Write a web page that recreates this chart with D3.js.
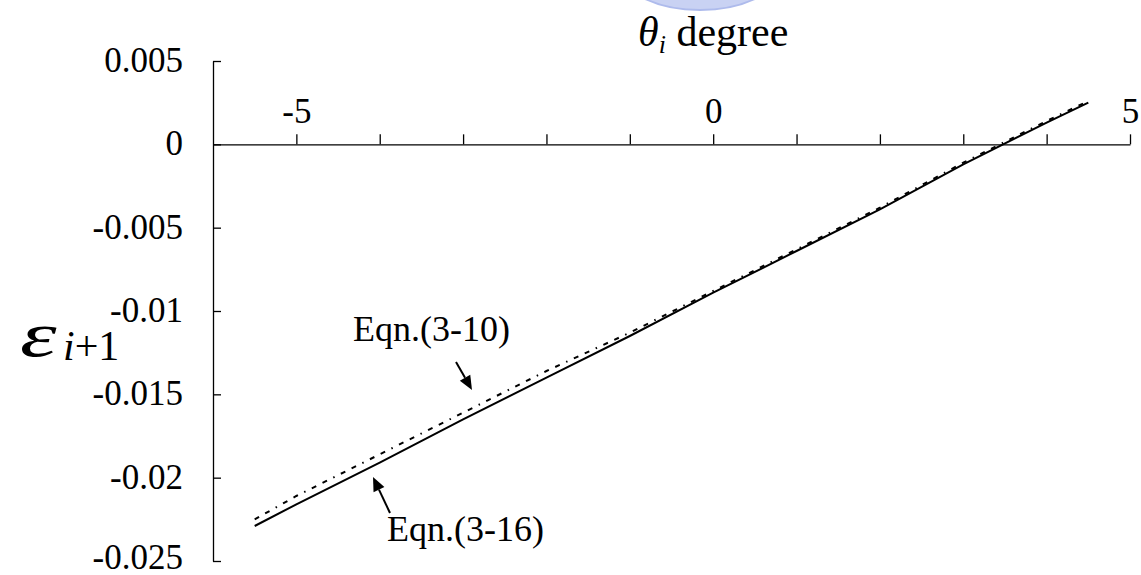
<!DOCTYPE html>
<meta charset="utf-8">
<head>
  <title>epsilon vs theta</title>
</head>

<style>
body {
  margin: 0;
  background: #fff;
}
svg text {
  font-family: "Liberation Serif", "Times New Roman", serif;
  fill: #000;
}
</style>

<body>
  <div id="content">
    <svg width="1141" height="575"></svg>
  </div>

  <script src="https://cdnjs.cloudflare.com/ajax/libs/d3/7.8.5/d3.min.js"></script>

  <script>
// theta_i in degrees
var theta = [-5.5, -5, -4, -3, -2, -1, 0, 1, 2, 3, 4, 4.5];

// Eqn.(3-16), solid line
var eqn316 = [-0.0229, -0.0216, -0.0191, -0.0165, -0.0140, -0.0115, -0.0089, -0.0064, -0.0039, -0.0012, 0.0013, 0.0025];

// Eqn.(3-10), dotted line
var eqn310 = [-0.0225, -0.0211, -0.0186, -0.0161, -0.0136, -0.0113, -0.0088, -0.0063, -0.0038, -0.0011, 0.0014, 0.0026];

var xTicks = [-5, -4, -3, -2, -1, 0, 1, 2, 3, 4, 5];
var xTickLabels = {'-5': '-5', '0': '0', '5': '5'};
var yTicks = [0.005, 0, -0.005, -0.01, -0.015, -0.02, -0.025];
var yTickLabels = ['0.005', '0', '-0.005', '-0.01', '-0.015', '-0.02', '-0.025'];

var serif = '"Liberation Serif", "Times New Roman", serif';

var svg = d3.select('#content svg');

var x = d3.scaleLinear()
  .domain([-6, 5])
  .range([213, 1130]);

var y = d3.scaleLinear()
  .domain([-0.025, 0.005])
  .range([561, 61]);

// faint logo watermark cut by the top edge
svg.append('ellipse')
  .attr('cx', 700)
  .attr('cy', -26)
  .attr('rx', 76)
  .attr('ry', 36)
  .attr('fill', '#c9d2f3')
  .attr('stroke', '#aebbec')
  .attr('stroke-width', 2);

// y axis, ticks pointing inward
var yAxis = d3.axisLeft(y)
  .tickValues(yTicks)
  .tickFormat(function(d, i) { return yTickLabels[i]; })
  .tickSizeInner(-8)
  .tickSizeOuter(0)
  .tickPadding(30);

var gy = svg.append('g')
  .attr('transform', 'translate(' + x(-6) + ',0)')
  .call(yAxis)
  .attr('font-family', serif)
  .attr('font-size', 35);

// bottom label sits a touch higher so it stays inside the frame
gy.selectAll('text')
  .attr('dy', function(d) { return d === -0.025 ? '0.2em' : '0.3em'; });

// x axis sits on y = 0, labels above
var xAxis = d3.axisTop(x)
  .tickValues(xTicks)
  .tickFormat(function(d) { return xTickLabels[d] || ''; })
  .tickSizeInner(10)
  .tickSizeOuter(0)
  .tickPadding(11);

var gx = svg.append('g')
  .attr('transform', 'translate(0,' + y(0) + ')')
  .call(xAxis)
  .attr('font-family', serif)
  .attr('font-size', 35);

svg.selectAll('.domain, .tick line')
  .attr('stroke', '#000')
  .attr('stroke-width', 1.3);

// series
var line = d3.line()
  .x(function(d) { return x(d[0]); })
  .y(function(d) { return y(d[1]); });

svg.append('path')
  .datum(d3.zip(theta, eqn310))
  .attr('d', line)
  .attr('fill', 'none')
  .attr('stroke', '#000')
  .attr('stroke-width', 2)
  .attr('stroke-dasharray', '5,7,5,7,1.5,7');

svg.append('path')
  .datum(d3.zip(theta, eqn316))
  .attr('d', line)
  .attr('fill', 'none')
  .attr('stroke', '#000')
  .attr('stroke-width', 2);

// title
var title = svg.append('text')
  .attr('x', x(0))
  .attr('y', 46)
  .attr('text-anchor', 'middle')
  .style('font-size', '42px');
title.append('tspan').style('font-style', 'italic').text('θ');
title.append('tspan').style('font-style', 'italic').style('font-size', '26px').attr('dy', 7).text('i');
title.append('tspan').attr('dy', -7).text(' degree');

// y label: wide epsilon plus subscript
svg.append('text')
  .attr('transform', 'translate(20,356) scale(1.45,1)')
  .style('font-style', 'italic')
  .style('font-size', '64px')
  .text('ε');

var sub = svg.append('text')
  .attr('x', 63)
  .attr('y', 360)
  .style('font-size', '42px');
sub.append('tspan').style('font-style', 'italic').text('i');
sub.append('tspan').text('+1');

// annotations with arrows
var notes = [
  {label: 'Eqn.(3-10)', tx: 510, ty: 341, anchor: 'end', from: [456, 362], to: [472, 390]},
  {label: 'Eqn.(3-16)', tx: 387, ty: 541, anchor: 'start', from: [390, 513], to: [373, 477]}
];

notes.forEach(function(n) {
  svg.append('text')
    .attr('x', n.tx)
    .attr('y', n.ty)
    .attr('text-anchor', n.anchor)
    .style('font-size', '36px')
    .text(n.label);

  var dx = n.to[0] - n.from[0], dy = n.to[1] - n.from[1];
  var len = Math.sqrt(dx * dx + dy * dy);
  var ux = dx / len, uy = dy / len;
  var hl = 14, hw = 6;
  var bx = n.to[0] - ux * hl, by = n.to[1] - uy * hl;

  svg.append('line')
    .attr('x1', n.from[0]).attr('y1', n.from[1])
    .attr('x2', bx).attr('y2', by)
    .attr('stroke', '#000')
    .attr('stroke-width', 2);

  svg.append('path')
    .attr('d', 'M' + n.to[0] + ',' + n.to[1] +
      'L' + (bx - uy * hw) + ',' + (by + ux * hw) +
      'L' + (bx + uy * hw) + ',' + (by - ux * hw) + 'Z')
    .attr('fill', '#000');
});
  </script>
</body>
</html>
